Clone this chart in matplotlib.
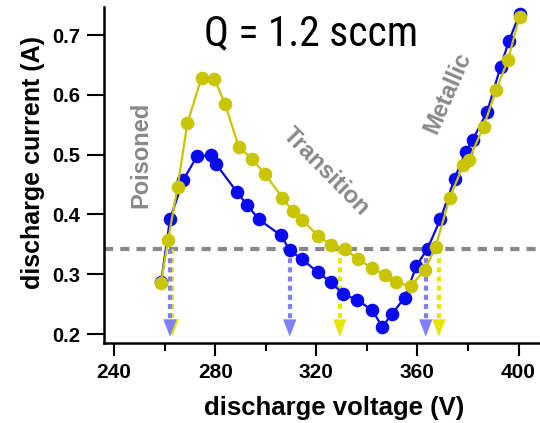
import matplotlib
matplotlib.use("Agg")
import matplotlib.pyplot as plt
from matplotlib import font_manager
from matplotlib.ticker import MultipleLocator

# ---------------- data ----------------
blue_v = [258.6, 262.1, 267.4, 272.9, 278.4, 280.4, 288.5, 292.6, 297.2, 306.0, 309.5,
          314.4, 320.7, 325.7, 330.6, 336.1, 342.1, 346.1, 350.0, 355.0, 359.6, 364.0,
          369.1, 374.7, 379.1, 381.8, 387.6, 392.9, 396.2, 400.5]
blue_i = [0.287, 0.392, 0.458, 0.498, 0.499, 0.484, 0.438, 0.416, 0.392, 0.365, 0.340,
          0.325, 0.303, 0.287, 0.267, 0.257, 0.240, 0.212, 0.234, 0.261, 0.314, 0.343,
          0.392, 0.460, 0.505, 0.524, 0.572, 0.647, 0.690, 0.736]

yellow_v = [258.5, 261.4, 265.1, 269.0, 274.6, 279.6, 283.9, 289.3, 294.7, 299.8, 306.6,
            310.6, 314.5, 320.7, 326.0, 331.3, 336.5, 342.2, 347.1, 351.4, 357.3, 362.9,
            367.2, 372.8, 378.1, 380.3, 386.2, 391.2, 395.8, 400.4]
yellow_i = [0.285, 0.358, 0.446, 0.553, 0.629, 0.627, 0.585, 0.513, 0.492, 0.467, 0.428,
            0.406, 0.391, 0.364, 0.349, 0.343, 0.325, 0.310, 0.299, 0.287, 0.280, 0.307,
            0.346, 0.428, 0.482, 0.491, 0.547, 0.609, 0.658, 0.731]

threshold = 0.342
blue_arrows_v = [262.1, 309.5, 363.3]
yellow_arrows_v = [263.0, 329.3, 368.5]
arrow_bottom = 0.1955

xticks = [240, 280, 320, 360, 400]
yticks = [0.2, 0.3, 0.4, 0.5, 0.6, 0.7]
title_text = "Q = 1.2 sccm"
xlabel = "discharge voltage (V)"
ylabel = "discharge current (A)"
region_labels = ["Poisoned", "Transition", "Metallic"]

# ---------------- style ----------------
BLUE = "#0a0aee"
YELLOW = "#c9c500"
ARROW_BLUE = "#8080ff"
ARROW_YELLOW = "#e6e600"
GRAY = "#888888"

available = {f.name for f in font_manager.fontManager.ttflist}
title_font = "DejaVu Sans"
for cand in ["Liberation Sans Narrow", "Roboto Condensed", "Open Sans Condensed", "Roboto"]:
    if cand in available:
        title_font = cand
        break
base_font = "Liberation Sans" if "Liberation Sans" in available else "DejaVu Sans"
plt.rcParams["font.family"] = [base_font, "DejaVu Sans"]

fig = plt.figure(figsize=(5.4, 4.23), dpi=100)
AX_L, AX_R, AX_T, AX_B = 104, 540, 7, 343
ax = fig.add_axes([AX_L / 540, (423 - AX_B) / 423, (AX_R - AX_L) / 540, (AX_B - AX_T) / 423])

ax.set_xlim(236, 408.5)
ax.set_ylim(0.185, 0.747)

# threshold line
ax.axhline(threshold, color=GRAY, lw=3, dashes=(2.2, 1.7), zorder=1)

# arrows
def draw_arrow(v, color, z):
    ax.plot([v, v], [threshold, arrow_bottom + 0.025], color=color, lw=3,
            dashes=(1.2, 1.0), zorder=z)
    ax.annotate("", xy=(v, arrow_bottom), xytext=(v, arrow_bottom + 0.05),
                arrowprops=dict(arrowstyle="-|>,head_length=1.25,head_width=0.48",
                                color=color, lw=0, shrinkA=0, shrinkB=0), zorder=z)

for v in yellow_arrows_v:
    draw_arrow(v, ARROW_YELLOW, 2)
for v in blue_arrows_v:
    draw_arrow(v, ARROW_BLUE, 2.1)

# data
ax.plot(blue_v, blue_i, color=BLUE, lw=1.6, marker="o", ms=9.8, mec="none", zorder=3)
ax.plot(yellow_v, yellow_i, color=YELLOW, lw=1.6, marker="o", ms=9.8, mec="none", zorder=4)

# region labels
ax.text(250.7, 0.499, region_labels[0], rotation=90, color=GRAY, fontsize=17,
        fontweight="bold", ha="center", va="center", zorder=5)
ax.text(323.8, 0.471, region_labels[1], rotation=-45.5, color=GRAY, fontsize=17,
        fontweight="bold", ha="center", va="center", zorder=5)
ax.text(372.0, 0.603, region_labels[2], rotation=66.5, color=GRAY, fontsize=17,
        fontweight="bold", ha="center", va="center", zorder=5)

# axes styling
for s in ["top", "right"]:
    ax.spines[s].set_visible(False)
for s in ["left", "bottom"]:
    ax.spines[s].set_linewidth(1.8)
ax.set_xticks(xticks)
ax.set_yticks(yticks)
ax.set_yticklabels([f"{t:.1f}" for t in yticks])
ax.xaxis.set_minor_locator(MultipleLocator(20))
ax.tick_params(axis="y", which="major", length=12, width=1.5, pad=5, labelsize=14.5)
ax.tick_params(axis="x", which="major", length=9.5, width=1.5, pad=5, labelsize=15)
ax.tick_params(axis="x", which="minor", length=6, width=1.5)
for lab in ax.get_xticklabels() + ax.get_yticklabels():
    lab.set_fontweight("bold")

w = AX_R - AX_L
h = AX_B - AX_T
ax.set_xlabel(xlabel, fontsize=18.5, fontweight="bold")
ax.xaxis.set_label_coords((334 - AX_L) / w, (AX_B - 396) / h)
ax.set_ylabel(ylabel, fontsize=18, fontweight="bold")
ax.yaxis.set_label_coords((45 - AX_L) / w, (AX_B - 162.5) / h)

fig.text(311 / 540, (423 - 45) / 423, title_text, fontsize=30, family=title_font,
         ha="center", va="baseline")

fig.savefig("out.png", dpi=100)
